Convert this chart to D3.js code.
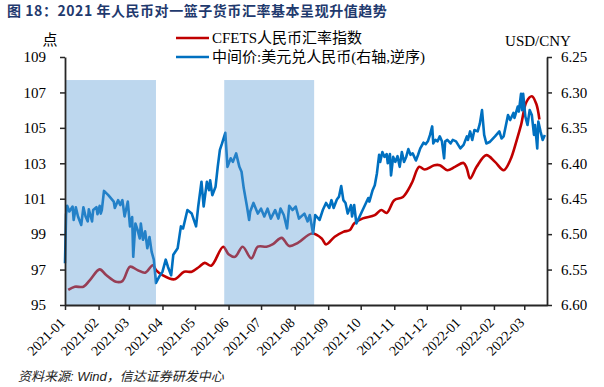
<!DOCTYPE html>
<html>
<head>
<meta charset="utf-8">
<script src="https://cdn.jsdelivr.net/npm/d3@7"></script>
<style>
  body { margin: 0; background: #fff; }
  svg text { font-family: "Liberation Serif", "Noto Sans CJK SC", serif; fill: #000; }
</style>
</head>
<body>
<svg id="chart" width="604" height="387"></svg>
<script>
// CFETS人民币汇率指数 (left axis, weekly)
let cfets = [
  ["2021-01-07",95.85],["2021-01-13",96.03],["2021-01-21",96.03],["2021-01-27",96.41],
  ["2021-02-05",97.01],["2021-02-11",96.69],["2021-02-20",96.31],["2021-02-26",96.35],
  ["2021-03-05",97.16],["2021-03-12",96.97],["2021-03-19",96.82],["2021-03-26",97.24],
  ["2021-03-29",96.97],["2021-04-04",96.69],["2021-04-15",96.45],["2021-04-24",96.88],
  ["2021-05-01",96.88],["2021-05-08",97.16],["2021-05-13",97.38],["2021-05-19",97.22],
  ["2021-05-30",98.29],["2021-06-04",97.87],["2021-06-10",97.72],["2021-06-17",98.29],
  ["2021-06-25",97.63],["2021-07-01",98.29],["2021-07-09",98.29],["2021-07-15",98.44],
  ["2021-07-23",98.79],["2021-07-30",98.33],["2021-08-07",98.51],["2021-08-20",99.04],
  ["2021-08-29",98.76],["2021-09-02",98.42],["2021-09-10",98.85],["2021-09-18",99.13],
  ["2021-09-24",99.23],["2021-09-28",99.61],["2021-10-06",99.89],["2021-10-17",100.07],
  ["2021-10-23",100.36],["2021-10-28",100.2],["2021-11-04",100.92],["2021-11-12",101.1],
  ["2021-11-20",101.86],["2021-11-27",102.8],["2021-12-02",102.65],["2021-12-11",102.89],
  ["2021-12-16",102.89],["2021-12-23",102.61],["2021-12-30",102.8],["2022-01-07",103.02],
  ["2022-01-10",102.71],["2022-01-13",102.14],["2022-01-19",102.8],["2022-01-28",103.46],
  ["2022-02-05",103.08],["2022-02-13",102.61],["2022-02-19",103.17],["2022-02-25",104.3],
  ["2022-03-01",105.15],["2022-03-06",106.46],["2022-03-11",106.78],["2022-03-15",106.37],
  ["2022-03-18",105.47]
]

// 中间价:美元兑人民币 (right axis, reversed)
let usdcny = [
  ["2021-01-04",6.541],["2021-01-05",6.472],["2021-01-06",6.460],["2021-01-08",6.468],
  ["2021-01-11",6.461],["2021-01-12",6.480],["2021-01-14",6.462],["2021-01-16",6.475],
  ["2021-01-19",6.487],["2021-01-21",6.462],["2021-01-23",6.475],["2021-01-25",6.482],
  ["2021-01-26",6.465],["2021-01-29",6.482],["2021-01-30",6.466],["2021-02-02",6.462],
  ["2021-02-03",6.472],["2021-02-05",6.460],["2021-02-06",6.471],["2021-02-07",6.466],
  ["2021-02-09",6.439],["2021-02-13",6.445],["2021-02-18",6.454],["2021-02-19",6.463],
  ["2021-02-22",6.452],["2021-02-24",6.459],["2021-02-26",6.452],["2021-02-28",6.475],
  ["2021-03-03",6.454],["2021-03-05",6.489],["2021-03-07",6.476],["2021-03-08",6.532],
  ["2021-03-10",6.485],["2021-03-12",6.494],["2021-03-14",6.506],["2021-03-15",6.485],
  ["2021-03-17",6.508],["2021-03-19",6.496],["2021-03-21",6.520],["2021-03-23",6.504],
  ["2021-03-25",6.525],["2021-03-27",6.536],["2021-03-29",6.569],["2021-04-01",6.560],
  ["2021-04-04",6.553],["2021-04-07",6.536],["2021-04-09",6.546],["2021-04-12",6.558],
  ["2021-04-14",6.529],["2021-04-18",6.520],["2021-04-21",6.489],["2021-04-23",6.492],
  ["2021-04-27",6.466],["2021-05-01",6.471],["2021-05-05",6.489],["2021-05-07",6.461],
  ["2021-05-10",6.426],["2021-05-12",6.461],["2021-05-15",6.426],["2021-05-17",6.438],
  ["2021-05-18",6.424],["2021-05-20",6.445],["2021-05-23",6.433],["2021-05-25",6.405],
  ["2021-05-27",6.381],["2021-05-29",6.372],["2021-06-01",6.357],["2021-06-03",6.405],
  ["2021-06-06",6.393],["2021-06-08",6.398],["2021-06-11",6.386],["2021-06-14",6.405],
  ["2021-06-16",6.412],["2021-06-18",6.435],["2021-06-21",6.461],["2021-06-23",6.480],
  ["2021-06-24",6.468],["2021-06-27",6.456],["2021-07-01",6.471],["2021-07-04",6.464],
  ["2021-07-07",6.475],["2021-07-10",6.464],["2021-07-13",6.478],["2021-07-17",6.466],
  ["2021-07-20",6.478],["2021-07-22",6.464],["2021-07-25",6.473],["2021-07-28",6.492],
  ["2021-07-30",6.460],["2021-08-02",6.466],["2021-08-05",6.461],["2021-08-08",6.478],
  ["2021-08-13",6.471],["2021-08-16",6.482],["2021-08-18",6.473],["2021-08-21",6.499],
  ["2021-08-23",6.473],["2021-08-27",6.480],["2021-08-30",6.466],["2021-09-02",6.456],
  ["2021-09-05",6.463],["2021-09-07",6.452],["2021-09-09",6.463],["2021-09-12",6.451],
  ["2021-09-14",6.447],["2021-09-16",6.432],["2021-09-18",6.452],["2021-09-20",6.456],
  ["2021-09-22",6.471],["2021-09-25",6.459],["2021-09-26",6.475],["2021-09-28",6.459],
  ["2021-09-30",6.485],["2021-10-11",6.449],["2021-10-12",6.454],["2021-10-15",6.438],
  ["2021-10-17",6.431],["2021-10-19",6.414],["2021-10-21",6.388],["2021-10-22",6.398],
  ["2021-10-24",6.384],["2021-10-26",6.391],["2021-10-28",6.387],["2021-10-29",6.400],
  ["2021-10-31",6.387],["2021-11-01",6.417],["2021-11-03",6.391],["2021-11-05",6.398],
  ["2021-11-07",6.390],["2021-11-09",6.405],["2021-11-11",6.384],["2021-11-13",6.398],
  ["2021-11-15",6.391],["2021-11-17",6.380],["2021-11-19",6.388],["2021-11-21",6.386],
  ["2021-11-24",6.396],["2021-11-26",6.388],["2021-11-28",6.379],["2021-12-01",6.371],
  ["2021-12-03",6.373],["2021-12-05",6.369],["2021-12-07",6.360],["2021-12-09",6.348],
  ["2021-12-10",6.372],["2021-12-12",6.367],["2021-12-14",6.369],["2021-12-16",6.362],
  ["2021-12-18",6.369],["2021-12-20",6.393],["2021-12-21",6.369],["2021-12-23",6.367],
  ["2021-12-26",6.372],["2021-12-28",6.367],["2021-12-31",6.369],["2022-01-04",6.379],
  ["2022-01-07",6.374],["2022-01-10",6.362],["2022-01-11",6.367],["2022-01-13",6.355],
  ["2022-01-15",6.367],["2022-01-17",6.353],["2022-01-20",6.355],["2022-01-22",6.344],
  ["2022-01-24",6.325],["2022-01-26",6.360],["2022-01-28",6.372],["2022-01-31",6.370],
  ["2022-02-05",6.362],["2022-02-09",6.355],["2022-02-11",6.365],["2022-02-13",6.362],
  ["2022-02-17",6.332],["2022-02-19",6.339],["2022-02-22",6.329],["2022-02-23",6.336],
  ["2022-02-26",6.320],["2022-02-27",6.327],["2022-03-01",6.302],["2022-03-02",6.325],
  ["2022-03-03",6.302],["2022-03-05",6.334],["2022-03-07",6.346],["2022-03-09",6.325],
  ["2022-03-11",6.332],["2022-03-13",6.360],["2022-03-14",6.346],["2022-03-16",6.379],
  ["2022-03-17",6.341],["2022-03-19",6.355],["2022-03-21",6.367],["2022-03-23",6.360]
]

// shaded periods, top of the bands on the left axis
let shadePeriods = [["2021-01-05","2021-03-29"],["2021-05-31","2021-08-22"]]
let shadeTop = 107.7

let leftTicks = [95, 97, 99, 101, 103, 105, 107, 109]
let rightTicks = [6.25, 6.30, 6.35, 6.40, 6.45, 6.50, 6.55, 6.60]
let monthTicks = ["2021-01-04","2021-02-04","2021-03-04","2021-04-04","2021-05-04","2021-06-04",
  "2021-07-04","2021-08-04","2021-09-04","2021-10-04","2021-11-04","2021-12-04",
  "2022-01-04","2022-02-04","2022-03-04"]

let parse = d3.timeParse('%Y-%m-%d')
let svg = d3.select('#chart')

let plot = {left: 65, right: 547, top: 57, bottom: 305}

let x = d3.scaleTime()
    .domain([parse('2021-01-04'), parse('2022-03-25')])
    .range([plot.left, plot.right])
let yLeft = d3.scaleLinear().domain([95, 109]).range([plot.bottom, plot.top])
let yRight = d3.scaleLinear().domain([6.25, 6.60]).range([plot.top, plot.bottom])

let red = '#C00000'
let blue = '#0070C0'

// title
svg.append('text')
    .attr('x', 7).attr('y', 16)
    .style('font-family', '"Noto Sans CJK SC", sans-serif')
    .style('font-size', '14px')
    .style('font-weight', 'bold')
    .style('letter-spacing', '0.55px')
    .style('fill', '#1F3A6E')
    .text('图 18：2021 年人民币对一篮子货币汇率基本呈现升值趋势')

// lines
let redLine = d3.line()
    .x(d => x(parse(d[0])))
    .y(d => yLeft(d[1]))
    .curve(d3.curveCatmullRom.alpha(0.5))
svg.append('path')
    .datum(cfets)
    .attr('d', redLine)
    .attr('fill', 'none')
    .attr('stroke', red)
    .attr('stroke-width', 2.6)

let blueLine = d3.line()
    .x(d => x(parse(d[0])))
    .y(d => yRight(d[1]))
svg.append('path')
    .datum(usdcny)
    .attr('d', blueLine)
    .attr('fill', 'none')
    .attr('stroke', blue)
    .attr('stroke-width', 2.6)
    .attr('stroke-linejoin', 'round')

// shaded bands (drawn over the lines)
svg.selectAll('rect.band')
    .data(shadePeriods)
    .enter()
    .append('rect')
    .attr('class', 'band')
    .attr('x', d => x(parse(d[0])))
    .attr('width', d => x(parse(d[1])) - x(parse(d[0])))
    .attr('y', yLeft(shadeTop))
    .attr('height', plot.bottom - yLeft(shadeTop))
    .attr('fill', '#5B9BD5')
    .attr('fill-opacity', 0.4)

// axes
let axisColor = '#262626'
let leftAxis = svg.append('g')
    .attr('transform', `translate(${plot.left},0)`)
    .call(d3.axisLeft(yLeft).tickValues(leftTicks).tickSize(5).tickSizeOuter(0).tickPadding(14))
let rightAxis = svg.append('g')
    .attr('transform', `translate(${plot.right},0)`)
    .call(d3.axisRight(yRight).tickValues(rightTicks).tickSize(5).tickSizeOuter(0).tickPadding(9)
        .tickFormat(d3.format('.2f')))
let bottomAxis = svg.append('g')
    .attr('transform', `translate(0,${plot.bottom})`)
    .call(d3.axisBottom(x).tickValues(monthTicks.map(parse)).tickSize(5).tickSizeOuter(0)
        .tickFormat(d3.timeFormat('%Y-%m')))

;[leftAxis, rightAxis, bottomAxis].forEach(g => {
    g.select('.domain').attr('stroke', axisColor).attr('stroke-width', 1.8)
    g.selectAll('.tick line').attr('stroke', axisColor).attr('stroke-width', 1.5)
    g.selectAll('text').style('font-size', '15px').style('fill', '#000')
})

bottomAxis.selectAll('text')
    .style('font-size', '14px')
    .attr('text-anchor', 'end')
    .attr('x', 0).attr('y', 0)
    .attr('dy', '0.35em')
    .attr('transform', 'translate(-3,15) rotate(-45)')

// axis unit labels
svg.append('text').attr('x', 50).attr('y', 45).attr('text-anchor', 'middle')
    .style('font-size', '15px').text('点')
svg.append('text').attr('x', 538).attr('y', 46).attr('text-anchor', 'middle')
    .style('font-size', '15px').text('USD/CNY')

// legend
let legend = [
    {name: 'CFETS人民币汇率指数', color: red, y: 38},
    {name: '中间价:美元兑人民币(右轴,逆序)', color: blue, y: 57}
]
legend.forEach(item => {
    svg.append('line')
        .attr('x1', 176).attr('x2', 209)
        .attr('y1', item.y).attr('y2', item.y)
        .attr('stroke', item.color).attr('stroke-width', 2.6)
    svg.append('text')
        .attr('x', 212).attr('y', item.y + 5)
        .style('font-size', '15px')
        .text(item.name)
})

// source
svg.append('text')
    .attr('x', 18).attr('y', 381)
    .style('font-family', '"Liberation Sans", "Noto Sans CJK SC", sans-serif')
    .style('font-style', 'italic')
    .style('font-size', '13px')
    .style('fill', '#222')
    .text('资料来源: Wind，信达证券研发中心')
</script>
</body>
</html>
